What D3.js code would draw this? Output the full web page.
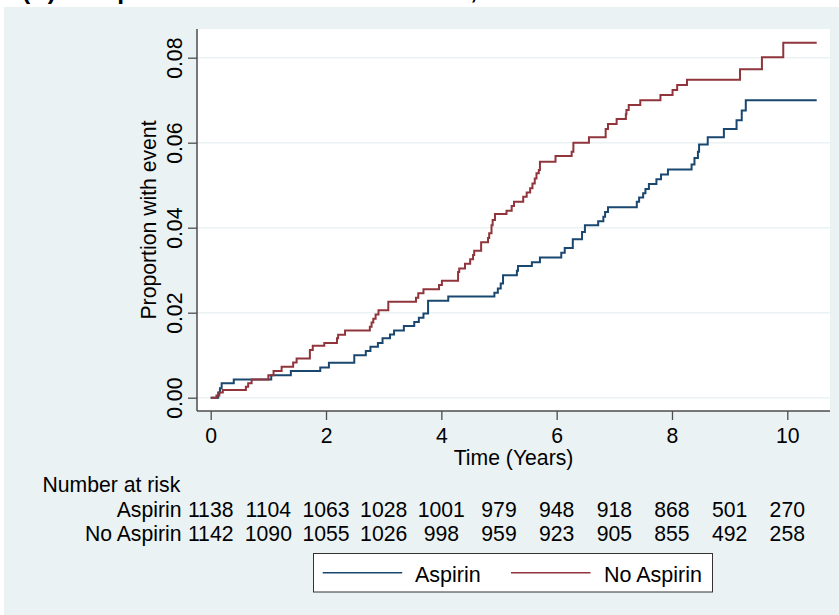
<!DOCTYPE html>
<html>
<head>
<meta charset="utf-8">
<script src="https://cdn.jsdelivr.net/npm/d3@7"></script>
<style>
	html, body { margin: 0; padding: 0; background: #ffffff; }
	svg { display: block; font-family: "Liberation Sans", Arial, sans-serif; }
</style>
</head>
<body>
<svg id="chart" width="839" height="615"></svg>
<script>
// Kaplan-Meier style steps: [years, proportion]
const aspirinSteps = [
	[0, 0], [0.13, 0.0012], [0.16, 0.0022], [0.19, 0.0034], [0.40, 0.0043], [1.05, 0.0053],
	[1.39, 0.0063], [1.90, 0.0071], [2.05, 0.0082], [2.49, 0.0100], [2.69, 0.0110], [2.77, 0.0120],
	[2.90, 0.0129], [2.98, 0.0140], [3.11, 0.0149], [3.18, 0.0158], [3.35, 0.0169], [3.53, 0.0178],
	[3.61, 0.0188], [3.69, 0.0198], [3.77, 0.0228], [4.12, 0.0238], [4.92, 0.0247], [4.98, 0.0257],
	[5.03, 0.0269], [5.07, 0.0288], [5.31, 0.0299], [5.33, 0.0310], [5.57, 0.0319], [5.71, 0.0330],
	[6.08, 0.0341], [6.14, 0.0352], [6.28, 0.0373], [6.44, 0.0390], [6.49, 0.0406], [6.72, 0.0415],
	[6.81, 0.0426], [6.84, 0.0437], [6.89, 0.0448], [7.39, 0.0461], [7.43, 0.0471], [7.50, 0.0481],
	[7.54, 0.0491], [7.60, 0.0503], [7.73, 0.0514], [7.81, 0.0525], [7.93, 0.0537], [8.34, 0.0549],
	[8.39, 0.0564], [8.45, 0.0579], [8.47, 0.0596], [8.62, 0.0613], [8.90, 0.0632], [9.12, 0.0653],
	[9.21, 0.0676], [9.28, 0.0700], [10.51, 0.0700]
];

const noAspirinSteps = [
	[0, 0], [0.10, 0.0005], [0.15, 0.0012], [0.21, 0.0018], [0.61, 0.0026], [0.65, 0.0034],
	[0.71, 0.0043], [1.00, 0.0053], [1.09, 0.0063], [1.23, 0.0073], [1.43, 0.0083], [1.49, 0.0092],
	[1.72, 0.0112], [1.77, 0.0122], [1.97, 0.0129], [2.19, 0.0140], [2.21, 0.0148], [2.33, 0.0158],
	[2.76, 0.0167], [2.79, 0.0177], [2.82, 0.0186], [2.86, 0.0196], [2.91, 0.0206], [3.08, 0.0226],
	[3.56, 0.0235], [3.60, 0.0246], [3.69, 0.0255], [3.96, 0.0265], [4.01, 0.0275], [4.29, 0.0296],
	[4.31, 0.0304], [4.41, 0.0315], [4.50, 0.0326], [4.55, 0.0336], [4.57, 0.0346], [4.69, 0.0366],
	[4.81, 0.0376], [4.83, 0.0387], [4.87, 0.0406], [4.89, 0.0418], [4.93, 0.0432], [5.13, 0.0440],
	[5.22, 0.0451], [5.26, 0.0461], [5.42, 0.0473], [5.48, 0.0483], [5.54, 0.0493], [5.58, 0.0504],
	[5.62, 0.0516], [5.65, 0.0528], [5.69, 0.0536], [5.71, 0.0555], [5.98, 0.0569], [6.26, 0.0579],
	[6.29, 0.0600], [6.56, 0.0613], [6.85, 0.0632], [6.89, 0.0644], [7.04, 0.0656], [7.20, 0.0667],
	[7.21, 0.0677], [7.25, 0.0689], [7.45, 0.0700], [7.80, 0.0712], [8.01, 0.0724], [8.09, 0.0736],
	[8.26, 0.0748], [9.18, 0.0773], [9.56, 0.0801], [9.93, 0.0835], [10.51, 0.0835]
];

const xTicks = [0, 2, 4, 6, 8, 10];
const yTicks = [0, 0.02, 0.04, 0.06, 0.08];
const riskTimes = [0, 1, 2, 3, 4, 5, 6, 7, 8, 9, 10];
const aspirinAtRisk = [1138, 1104, 1063, 1028, 1001, 979, 948, 918, 868, 501, 270];
const noAspirinAtRisk = [1142, 1090, 1055, 1026, 998, 959, 923, 905, 855, 492, 258];
const seriesNames = ['Aspirin', 'No Aspirin'];
const seriesColours = ['#1a476f', '#90353b'];

const svg = d3.select('#chart');
const bg = '#eaf2f3';
const textColour = '#000000';
const axisColour = '#4d4d4d';
const fontSize = 21.2;

// panel background and the title, which sits mostly above the frame
svg.append('rect')
	.attr('x', 4).attr('y', 7)
	.attr('width', 835).attr('height', 608)
	.attr('fill', bg);

svg.append('text')
	.attr('x', 22).attr('y', -1.5)
	.attr('fill', textColour)
	.style('font-weight', '700')
	.style('font-size', '24.5px')
	.text('(A) Composite Outcome in All Patients, ITT');

const plot = { left: 197, right: 830, top: 29, bottom: 411 };

const x = d3.scaleLinear().domain([0, 10]).range([210.7, 787.3]);
const y = d3.scaleLinear().domain([0, 0.08]).range([397.7, 57.7]);

svg.append('rect')
	.attr('x', plot.left).attr('y', plot.top)
	.attr('width', plot.right - plot.left).attr('height', plot.bottom - plot.top)
	.attr('fill', '#ffffff');

// horizontal grid
svg.append('g')
	.selectAll('line')
	.data(yTicks)
	.enter().append('line')
	.attr('x1', plot.left).attr('x2', plot.right)
	.attr('y1', d => y(d)).attr('y2', d => y(d))
	.attr('stroke', bg)
	.attr('stroke-width', 1.5);

// y axis
const yAxis = svg.append('g')
	.attr('transform', `translate(${plot.left},0)`)
	.call(d3.axisLeft(y).tickValues(yTicks).tickSize(9).tickFormat(d3.format('.2f')));
yAxis.select('.domain').remove();
yAxis.selectAll('.tick line').attr('stroke', axisColour).attr('stroke-width', 1.3);
yAxis.selectAll('.tick text')
	.attr('x', null).attr('dy', null)
	.attr('transform', 'translate(-15.5,0) rotate(-90)')
	.attr('text-anchor', 'middle')
	.attr('fill', textColour)
	.style('font-size', fontSize + 'px')
	.style('font-family', null);
svg.append('line')
	.attr('x1', plot.left).attr('x2', plot.left)
	.attr('y1', plot.top).attr('y2', plot.bottom)
	.attr('stroke', axisColour).attr('stroke-width', 1.5);

// x axis
const xAxis = svg.append('g')
	.attr('transform', `translate(0,${plot.bottom})`)
	.call(d3.axisBottom(x).tickValues(xTicks).tickSize(9).tickFormat(d3.format('d')));
xAxis.select('.domain').remove();
xAxis.selectAll('.tick line').attr('stroke', axisColour).attr('stroke-width', 1.3);
xAxis.selectAll('.tick text')
	.attr('y', 32).attr('dy', null)
	.attr('fill', textColour)
	.style('font-size', fontSize + 'px')
	.style('font-family', null);
svg.append('line')
	.attr('x1', plot.left).attr('x2', plot.right)
	.attr('y1', plot.bottom).attr('y2', plot.bottom)
	.attr('stroke', axisColour).attr('stroke-width', 1.5);

// axis titles
svg.append('text')
	.attr('transform', `translate(156,${(plot.top + plot.bottom) / 2}) rotate(-90)`)
	.attr('text-anchor', 'middle')
	.attr('fill', textColour)
	.style('font-size', fontSize + 'px')
	.text('Proportion with event');

svg.append('text')
	.attr('x', (plot.left + plot.right) / 2).attr('y', 465)
	.attr('text-anchor', 'middle')
	.attr('fill', textColour)
	.style('font-size', fontSize + 'px')
	.text('Time (Years)');

// curves
const stepLine = d3.line()
	.x(d => x(d[0]))
	.y(d => y(d[1]))
	.curve(d3.curveStepAfter);

[aspirinSteps, noAspirinSteps].forEach((steps, i) => {
	svg.append('path')
		.datum(steps)
		.attr('d', stepLine)
		.attr('fill', 'none')
		.attr('stroke', seriesColours[i])
		.attr('stroke-width', 2);
});

// number at risk table
svg.append('text')
	.attr('x', 42.5).attr('y', 492)
	.attr('fill', textColour)
	.style('font-size', fontSize + 'px')
	.text('Number at risk');

const riskRows = [aspirinAtRisk, noAspirinAtRisk];
const rowBaselines = [516.7, 540.5];
riskRows.forEach((row, i) => {
	const g = svg.append('g');
	g.append('text')
		.attr('x', 181.5).attr('y', rowBaselines[i])
		.attr('text-anchor', 'end')
		.attr('fill', textColour)
		.style('font-size', fontSize + 'px')
		.text(seriesNames[i]);
	g.selectAll('.risk')
		.data(row)
		.enter().append('text')
		.attr('class', 'risk')
		.attr('x', (d, j) => x(riskTimes[j]))
		.attr('y', rowBaselines[i])
		.attr('text-anchor', 'middle')
		.attr('fill', textColour)
		.style('font-size', fontSize + 'px')
		.text(d => d);
});

// legend
const legend = svg.append('g');
legend.append('rect')
	.attr('x', 313.5).attr('y', 553.5)
	.attr('width', 399).attr('height', 38.5)
	.attr('fill', '#ffffff')
	.attr('stroke', '#333333')
	.attr('stroke-width', 1);

const legendItems = [
	{ lineX: 322.7, textX: 415 },
	{ lineX: 511, textX: 604 }
];
legendItems.forEach((item, i) => {
	legend.append('line')
		.attr('x1', item.lineX).attr('x2', item.lineX + 79.5)
		.attr('y1', 572.7).attr('y2', 572.7)
		.attr('stroke', seriesColours[i])
		.attr('stroke-width', 1.4);
	legend.append('text')
		.attr('x', item.textX).attr('y', 581.5)
		.attr('fill', textColour)
		.style('font-size', '21.5px')
		.text(seriesNames[i]);
});
</script>
</body>
</html>
